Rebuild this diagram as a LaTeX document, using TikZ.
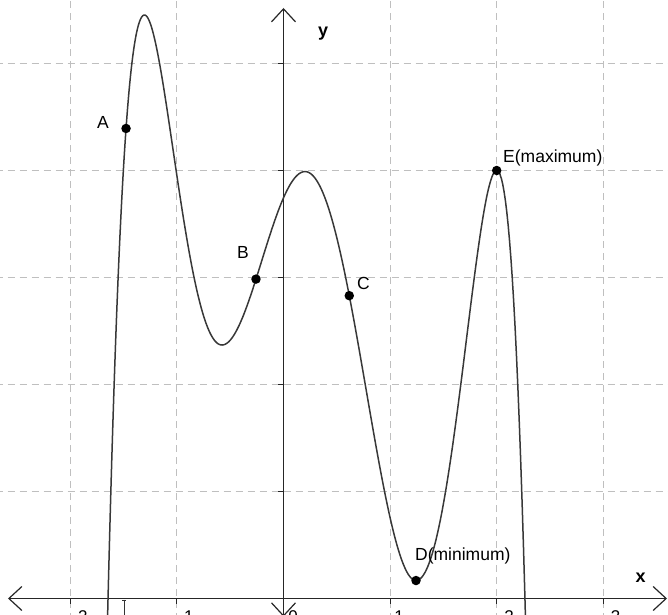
\documentclass[tikz,border=0pt]{standalone}
\usepackage{fontspec}
\setmainfont{Liberation Sans}
\usetikzlibrary{arrows.meta}
% antiderivative of (x+1.304)(x+0.577)(x-0.202)(x-1.243)(x-2)
\pgfmathdeclarefunction{Qf}{1}{\pgfmathparse{(#1)*(-0.377838+(#1)*(0.7093965+(#1)*(0.938055+(#1)*(-0.64663775+(#1)*(-0.3128+(#1)/6)))))}}
% piece between (x0,y0) and (x1,y1)
\pgfmathdeclarefunction{Pc}{5}{\pgfmathparse{(#3)+((#5)-(#3))*(Qf(#1)-Qf(#2))/(Qf(#4)-Qf(#2))}}
\begin{document}
\begin{tikzpicture}[x=106.6pt,y=107pt,
  gridline/.style={draw=black!25, line width=0.8pt, dash pattern=on 7pt off 5pt},
  axis/.style={draw=black!85, line width=1.2pt},
  tickmark/.style={draw=black!85, line width=1.1pt},
  curve/.style={draw=black!78, line width=1.5pt, line join=round},
  pt/.style={circle, fill=black, inner sep=0pt, minimum size=9.5pt},
  lbl/.style={anchor=base west, inner sep=0pt, font=\fontsize{17.5}{20}\selectfont},
  ticklbl/.style={anchor=north, inner sep=0pt, font=\fontsize{17}{20}\selectfont},
  axlbl/.style={anchor=base west, inner sep=0pt, font=\fontsize{18}{20}\selectfont\bfseries}]
\useasboundingbox (-2.65947,-0.14486) rectangle (3.60694,5.59346);
\clip (-2.65947,-0.14486) rectangle (3.60694,5.59346);
% grid
\foreach \i in {-2,-1,1,2,3} \draw[gridline] (\i,-0.2) -- (\i,5.7);
\foreach \j in {1,...,5} \draw[gridline] (-2.7,\j) -- (3.7,\j);
% axes
\coordinate (xl) at (-2.5844,0);
\coordinate (xr) at (3.5976,0);
\coordinate (yb) at (0,-0.17);
\coordinate (yt) at (0,5.5187);
\draw[axis, {Straight Barb[length=13pt,width=24pt]}-{Straight Barb[length=13pt,width=24pt]}] (xl) -- (xr);
\draw[axis, {Straight Barb[length=13pt,width=24pt]}-{Straight Barb[length=13pt,width=24pt]}] (yb) -- (yt);
% ticks
\foreach \i in {-2,-1,1,2,3} \draw[tickmark] (\i,0) -- (\i,-0.047);
\foreach \j in {1,...,5} \draw[tickmark] (0,\j) -- (-0.047,\j);
\draw[line width=0.9pt, black!80] (-1.4962,-0.012) -- (-1.4962,-0.16);
\draw[line width=0.9pt, black!80] (-1.512,-0.016) -- (-1.480,-0.016);
% tick labels (cut by the lower edge, as in the reference)
\node[ticklbl] (tm2) at (-1.9278,-0.112) {−2};
\node[ticklbl] (tm1) at (-0.9334,-0.112) {−1};
\node[ticklbl] (t0) at (0.0891,-0.112) {0};
\node[ticklbl] (t1) at (1.0835,-0.112) {1};
\node[ticklbl] (t2) at (2.1154,-0.112) {2};
\node[ticklbl] (t3) at (3.1163,-0.112) {3};
% curve
\draw[curve]
  plot[domain=-1.69:-1.304, samples=70] (\x,{Pc(\x,-1.304,5.453,-1.646,0)})
  -- plot[domain=-1.304:-0.577, samples=90] (\x,{Pc(\x,-1.304,5.453,-0.577,2.369)})
  -- plot[domain=-0.577:0.202, samples=90] (\x,{Pc(\x,-0.577,2.369,0.202,3.99)})
  -- plot[domain=0.202:1.243, samples=100] (\x,{Pc(\x,0.202,3.99,1.243,0.168)})
  -- plot[domain=1.243:2, samples=90] (\x,{Pc(\x,1.243,0.168,2,4)})
  -- plot[domain=2:2.30, samples=70] (\x,{Pc(\x,2,4,2.265,0)});
% points
\pgfmathsetmacro\yA{Pc(-1.477,-1.304,5.453,-1.646,0)}
\pgfmathsetmacro\yB{Pc(-0.258,-0.577,2.369,0.202,3.99)}
\pgfmathsetmacro\yC{Pc(0.617,0.202,3.99,1.243,0.168)}
\node[pt] (A) at (-1.477,\yA) {};
\node[pt] (B) at (-0.258,\yB) {};
\node[pt] (C) at (0.617,\yC) {};
\node[pt] (D) at (1.243,0.168) {};
\node[pt] (E) at (2,4) {};
% labels
\node[lbl] (lA) at (-1.7495,4.388) {A};
\node[lbl] (lB) at (-0.4362,3.1822) {B};
\node[lbl] (lC) at (0.6895,2.8832) {C};
\node[lbl] (lD) at (1.2336,0.3598) {D(minimum)};
\node[lbl] (lE) at (2.0591,4.0701) {E(maximum)};
\node[axlbl] (ly) at (0.3236,5.2477) {y};
\node[axlbl] (lx) at (3.3021,0.1542) {x};
\end{tikzpicture}
\end{document}
